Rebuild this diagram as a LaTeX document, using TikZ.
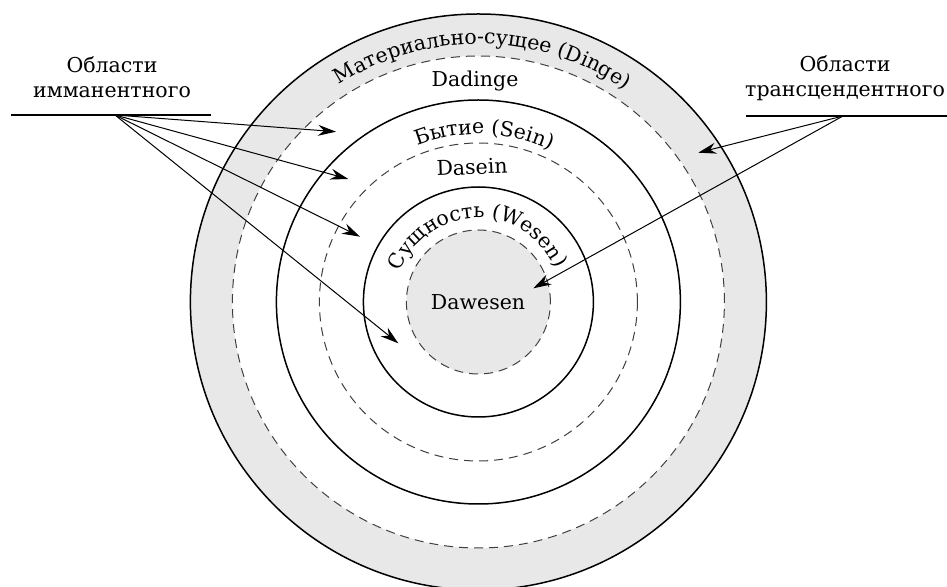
\documentclass[tikz,border=0pt]{standalone}
\usepackage{fontspec}
\setmainfont{DejaVu Serif}
\usetikzlibrary{arrows.meta,decorations.text,calc}

\begin{document}
\begin{tikzpicture}[x=1pt,y=1pt,inner sep=0pt,outer sep=0pt,
lbl/.style={font=\fontsize{20.5}{25}\selectfont,align=center},
ring/.style={line width=1.5pt},
dring/.style={line width=1pt,draw=black!75,dash pattern=on 9pt off 6pt},
ptr/.style={line width=1pt,-{Stealth[length=18pt,width=11pt,inset=6pt]}},
bar/.style={line width=2.6pt},
arctext/.style={decorate,decoration={text along path,text align=center,text={#1}}}]
\useasboundingbox (0,0) rectangle (947,586);
\clip (0,0) rectangle (947,586);
\coordinate (C) at (478.4,284);

% rings
\fill[black!9] (C) circle[radius=288];
\fill[white] (C) circle[radius=246];
\fill[black!9] (C) circle[radius=72];
\draw[ring] (C) circle[radius=288];
\draw[dring] (C) circle[radius=246];
\draw[ring] (C) circle[radius=202];
\draw[dring] (C) circle[radius=159];
\draw[ring] (C) circle[radius=115];
\draw[dring] (C) circle[radius=72];

% ring names
\path[arctext={|\fontsize{20.5}{25}\selectfont|Материально-сущее (Dinge)}] ($(C)+(149:258)$) arc[start angle=149,end angle=29,radius=258];
\path[arctext={|\fontsize{20.5}{25}\selectfont|Бытие (Sein)}] ($(C)+(148:168)$) arc[start angle=148,end angle=28,radius=168];
\path[arctext={|\fontsize{20.5}{25}\selectfont|Сущность (Wesen)}] ($(C)+(180:84)$) arc[start angle=180,end angle=2,radius=84];
\draw (475,505) node[lbl] (dadinge) {Dadinge};
\draw (472,419) node[lbl,rotate=2] (dasein) {Dasein};
\draw (478,284) node[lbl] (dawesen) {Dawesen};

% side labels
\draw (112,509) node[lbl] (imm) {Области\\имманентного};
\draw (845,508) node[lbl] (trans) {Области\\трансцендентного};
\draw[bar] (11,471) -- (211,471);
\draw[bar] (746,470) -- (947,470);
\coordinate (imm0) at (115,471);
\coordinate (trans0) at (843,470);

\coordinate (inDadinge) at (336,454.3);
\coordinate (inSein) at (348.3,407);
\coordinate (inDasein) at (360,349.3);
\coordinate (inWesen) at (398.3,242.7);
\coordinate (inDinge) at (698.3,433.3);
\coordinate (inDawesen) at (533.3,297.7);

\draw[ptr] (imm0) -- (inDadinge);
\draw[ptr] (imm0) -- (inSein);
\draw[ptr] (imm0) -- (inDasein);
\draw[ptr] (imm0) -- (inWesen);
\draw[ptr] (trans0) -- (inDinge);
\draw[ptr] (trans0) -- (inDawesen);
\end{tikzpicture}
\end{document}
